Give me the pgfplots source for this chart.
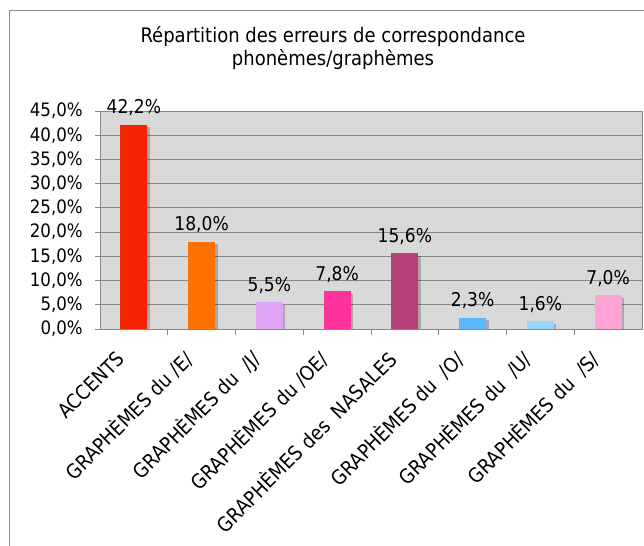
\documentclass[border=0pt]{standalone}
\usepackage{fontspec}
\setmainfont{DejaVu Sans}[FakeStretch=0.9]
\usepackage{pgfplots}
\pgfplotsset{compat=1.18}
\usetikzlibrary{shadows}

\definecolor{bgc}{RGB}{217,217,217}
\definecolor{gridc}{RGB}{136,136,136}
\definecolor{framec}{RGB}{140,140,140}
\definecolor{c1}{RGB}{245,36,0}
\definecolor{c2}{RGB}{255,112,0}
\definecolor{c3}{RGB}{222,164,245}
\definecolor{c4}{RGB}{255,51,153}
\definecolor{c5}{RGB}{182,64,119}
\definecolor{c6}{RGB}{90,184,255}
\definecolor{c7}{RGB}{153,214,255}
\definecolor{c8}{RGB}{255,163,212}

\begin{document}
\begin{tikzpicture}[x=1bp,y=1bp]
\useasboundingbox (0,0) rectangle (644,546);
\draw[framec, line width=1bp] (9,0) -- (9,535) -- (644,535);
\node[anchor=base, font=\fontsize{20bp}{23bp}\selectfont] at (333,503) {Répartition des erreurs de correspondance};
\node[anchor=base, font=\fontsize{20bp}{23bp}\selectfont] at (333,480) {phonèmes/graphèmes};
\begin{axis}[
  at={(100bp,217bp)}, anchor=south west,
  width=542bp, height=218bp, scale only axis,
  xmin=-0.5, xmax=7.5, ymin=0, ymax=45,
  ybar, bar width=27bp, bar shift=0pt,
  axis background/.style={fill=bgc},
  axis line style={draw=gridc, line width=0.8bp},
  ymajorgrids, grid style={draw=gridc, line width=0.8bp},
  ytick={0,5,...,45},
  yticklabel={\pgfmathprintnumber[fixed,fixed zerofill,precision=1,use comma]{\tick}\%},
  /pgf/number format/assume math mode=true,
  tick align=outside,
  tick pos=left,
  major tick length=5bp,
  y tick style={draw=gridc, line width=0.8bp},
  xtick={0,...,7},
  major x tick style={draw=none},
  minor xtick={0.5,1.5,...,6.5},
  minor x tick style={draw=gridc, line width=0.8bp},
  minor tick length=6bp,
  xticklabels={ACCENTS, GRAPHÈMES du /E/, GRAPHÈMES du\ \ /J/, GRAPHÈMES du /OE/, GRAPHÈMES des\ \ NASALES, GRAPHÈMES du\ \ /O/, GRAPHÈMES du\ \ /U/, GRAPHÈMES du\ \ /S/},
  xticklabel style={xshift=-13bp, yshift=7bp, rotate=45, anchor=east, font=\fontsize{20bp}{23bp}\selectfont, inner sep=0pt},
  xticklabel shift=28bp,
  yticklabel style={font=\fontsize{18.5bp}{21bp}\selectfont, inner sep=0pt, xshift=-12bp},
  nodes near coords={\pgfmathprintnumber[fixed,fixed zerofill,precision=1,use comma]{\pgfplotspointmeta}\%},
  every node near coord/.append style={font=\fontsize{19bp}{22bp}\selectfont, inner sep=0pt, yshift=8.5bp, black},
  every axis plot/.append style={draw=none, drop shadow={shadow xshift=2.5bp, shadow yshift=-2.5bp, fill=black, opacity=0.22}},
  clip=true,
]
\addplot[fill=c1] coordinates {(0,42.2)};
\addplot[fill=c2] coordinates {(1,18.0)};
\addplot[fill=c3] coordinates {(2,5.5)};
\addplot[fill=c4] coordinates {(3,7.8)};
\addplot[fill=c5] coordinates {(4,15.6)};
\addplot[fill=c6] coordinates {(5,2.3)};
\addplot[fill=c7] coordinates {(6,1.6)};
\addplot[fill=c8] coordinates {(7,7.0)};
\end{axis}
\end{tikzpicture}
\end{document}
